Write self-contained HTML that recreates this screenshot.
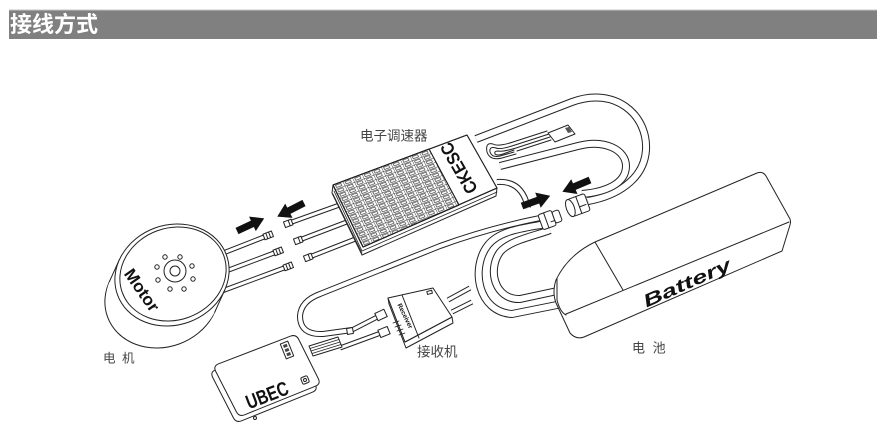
<!DOCTYPE html>
<html><head><meta charset="utf-8">
<style>
html,body{margin:0;padding:0;background:#fff;}
body{width:882px;height:434px;overflow:hidden;position:relative;}
svg{position:absolute;left:0;top:0;}
.cb{fill:none;stroke:#222;stroke-width:8;stroke-linecap:butt;}
.cw{fill:none;stroke:#fff;stroke-width:6;stroke-linecap:butt;}
.tb{fill:none;stroke:#222;stroke-width:6;stroke-linecap:butt;}
.tw{fill:none;stroke:#fff;stroke-width:4;stroke-linecap:butt;}
.sb{fill:none;stroke:#222;stroke-width:5;stroke-linecap:butt;}
.sw{fill:none;stroke:#fff;stroke-width:3;stroke-linecap:butt;}
.lbl{font-family:"Liberation Sans","Noto Sans CJK SC",sans-serif;fill:#444;stroke:none;}
</style></head><body>
<svg width="882" height="434" viewBox="0 0 882 434" xmlns="http://www.w3.org/2000/svg">
<defs>
<pattern id="fin" patternUnits="userSpaceOnUse" width="9.6" height="4.4" patternTransform="matrix(1,-0.375,0.484,1,333,185)">
<rect x="0" y="0" width="9.6" height="4.4" fill="#fff"/>
<line x1="0" y1="0" x2="9.6" y2="0" stroke="#222" stroke-width="0.8"/>
<line x1="0" y1="0" x2="0" y2="4.4" stroke="#222" stroke-width="0.8"/>
<rect x="2" y="1.1" width="5.2" height="2.2" fill="none" stroke="#333" stroke-width="0.6"/>
</pattern>
</defs>
<rect x="9" y="10" width="868" height="29" fill="#808080"/>
<line x1="9" y1="10" x2="877" y2="10" stroke="#c4c4c4"/>
<text x="10" y="32" font-family="'Liberation Sans','Noto Sans CJK SC',sans-serif" font-weight="bold" font-size="22" fill="#fff">接线方式</text>

<g fill="none" stroke="#222" stroke-width="1" stroke-linejoin="round" stroke-linecap="round">

<!-- big loop cables -->
<path class="cb" d="M476,139 L572,102 C615,86 648,115 646,150 C644,180 616,196 588,201"/>
<path class="cw" d="M476,139 L572,102 C615,86 648,115 646,150 C644,180 616,196 588,201"/>
<path class="cb" d="M500,166 L578,146 C605,139 626,150 626,166 C626,184 605,192 582,194"/>
<path class="cw" d="M500,166 L578,146 C605,139 626,150 626,166 C626,184 605,192 582,194"/>

<!-- long thin cable to receiver -->
<path class="tb" d="M352,330 L323,334 Q300,335 300,316 Q301,301 320,294 L440,246 Q490,228 540,218"/>
<path class="tw" d="M352,330 L323,334 Q300,335 300,316 Q301,301 320,294 L440,246 Q490,228 540,218"/>

<!-- S battery cables -->
<path class="cb" d="M546,224 C525,228 500,230 488,245 C470,268 478,312 512,314 L562,304"/>
<path class="cw" d="M546,224 C525,228 500,230 488,245 C470,268 478,312 512,314 L562,304"/>
<path class="cb" d="M550,230 C535,236 510,240 500,252 C487,270 495,300 520,299 L562,290"/>
<path class="cw" d="M550,230 C535,236 510,240 500,252 C487,270 495,300 520,299 L562,290"/>

<!-- battery -->
<path fill="#fff" d="M595,242 L757,173 Q763,171 766,176 L790,219 Q791,222 790,225 L782,251 L584,337 Q576,340 570,333 L556,303 Q552,292 556,280 Q568,255 595,242 Z"/>
<path d="M789,222 L566,314"/>
<path d="M557,279 L557,300 Q560,312 566,315"/>
<path d="M595,242 L623,290"/>
<text transform="translate(687,283) rotate(-24)" x="0" y="6" text-anchor="middle" font-family="'Liberation Sans',sans-serif" font-weight="bold" font-style="italic" font-size="18" textLength="94" lengthAdjust="spacingAndGlyphs" fill="#111" stroke="none">Battery</text>

<!-- ESC short cable to connector -->
<path class="tb" d="M497,182 Q522,180 528,208"/>
<path class="tw" d="M497,182 Q522,180 528,208"/>

<!-- connectors -->
<g transform="translate(550,219) rotate(-20)" fill="#fff">
<rect x="-10" y="-8" width="14" height="16" rx="2"/>
<rect x="4" y="-6" width="7" height="12" rx="2"/>
<line x1="-4" y1="-8" x2="-4" y2="8"/>
<line x1="0" y1="3" x2="4" y2="3"/>
</g>
<g transform="translate(576,206) rotate(-20)" fill="#fff">
<rect x="-6" y="-9" width="18" height="18" rx="2"/>
<ellipse cx="-6" cy="0" rx="4" ry="9"/>
<line x1="3" y1="-9" x2="3" y2="9"/>
<line x1="3" y1="2" x2="10" y2="2"/>
</g>

<!-- arrows -->
<g fill="#111" stroke="none">
<polygon transform="translate(237,231) rotate(-25)" points="0,-3.5 17,-3.5 17,-8 30,0 17,8 17,3.5 0,3.5"/>
<polygon transform="translate(304,203) rotate(153)" points="0,-3.5 17,-3.5 17,-8 30,0 17,8 17,3.5 0,3.5"/>
<polygon transform="translate(522,206) rotate(-20)" points="0,-3.5 17,-3.5 17,-8 30,0 17,8 17,3.5 0,3.5"/>
<polygon transform="translate(590,180) rotate(157)" points="0,-3.5 17,-3.5 17,-8 30,0 17,8 17,3.5 0,3.5"/>
</g>

<!-- servo lead fold + plug -->
<path d="M549,134 L515,145 Q500,150 496,148 Q489,146 490,152 Q492,158 500,156 L514,152"/>
<path d="M550,137 L516,148 Q503,152 498,151 Q494,151 495,154 Q497,156 503,154 L514,150"/>
<path d="M551,140 L517,151"/>
<path d="M547,131 L513,142 Q498,147 493,144 Q485,142 487,152 Q490,161 502,158 L516,154"/>
<polygon fill="#fff" points="548,133 568,125 575,134 555,142"/>
<polygon fill="#555" stroke="none" points="565,128 569,127 572,132 568,133"/>

<!-- ESC wires -->
<path class="sb" d="M345,203 L292,222"/><path class="sw" d="M345,203 L292,222"/>
<path class="sb" d="M352,220 L302,239"/><path class="sw" d="M352,220 L302,239"/>
<path class="sb" d="M358,238 L312,256"/><path class="sw" d="M358,238 L312,256"/>
<g fill="#fff">
<g transform="translate(292,222) rotate(160)"><rect x="0" y="-3" width="8" height="6"/><line x1="3" y1="-3" x2="3" y2="3"/></g>
<g transform="translate(302,239) rotate(159)"><rect x="0" y="-3" width="8" height="6"/><line x1="3" y1="-3" x2="3" y2="3"/></g>
<g transform="translate(312,256) rotate(159)"><rect x="0" y="-3" width="8" height="6"/><line x1="3" y1="-3" x2="3" y2="3"/></g>
</g>

<!-- ESC body -->
<polygon fill="#fff" points="333,185 332,193 362,255 496,196 497,188 363,247"/>
<path d="M334,191 L362,251 L497,192" stroke-width="0.8"/>
<path d="M333,194 L362,253" stroke-width="0.7"/>
<polygon fill="#fff" points="333,185 467,135 497,188 363,247"/>
<polygon fill="url(#fin)" points="333,185 429,149 459,205 363,247"/>
<polygon points="333,185 429,149 459,205 363,247"/>
<polygon points="333,185 467,135 497,188 363,247"/>
<text transform="translate(459,168) rotate(-120)" x="0" y="6" text-anchor="middle" font-family="'Liberation Sans',sans-serif" font-weight="bold" font-size="18" textLength="56" lengthAdjust="spacingAndGlyphs" fill="#111" stroke="none">CKESC</text>

<!-- motor wires -->
<path class="sb" d="M213,257 L264,237"/><path class="sw" d="M213,257 L264,237"/>
<path class="sb" d="M218,274 L274,253"/><path class="sw" d="M218,274 L274,253"/>
<path class="sb" d="M222,291 L284,268"/><path class="sw" d="M222,291 L284,268"/>
<g fill="#fff">
<g transform="translate(264,237) rotate(-21)"><rect x="0" y="-3" width="9" height="6"/><line x1="3" y1="-3" x2="3" y2="3"/><line x1="6" y1="-3" x2="6" y2="3"/></g>
<g transform="translate(274,253) rotate(-21)"><rect x="0" y="-3" width="9" height="6"/><line x1="3" y1="-3" x2="3" y2="3"/><line x1="6" y1="-3" x2="6" y2="3"/></g>
<g transform="translate(284,268) rotate(-21)"><rect x="0" y="-3" width="9" height="6"/><line x1="3" y1="-3" x2="3" y2="3"/><line x1="6" y1="-3" x2="6" y2="3"/></g>
</g>

<!-- motor -->
<ellipse cx="162" cy="297" rx="58" ry="50" transform="rotate(-20 162 297)" fill="#fff"/>
<g fill="#fff" stroke="none">
<ellipse cx="170.5" cy="278.3" rx="58" ry="50" transform="rotate(-20 170.5 278.3)"/>
<ellipse cx="169" cy="281.6" rx="58" ry="50" transform="rotate(-20 169 281.6)"/>
<ellipse cx="167.5" cy="284.9" rx="58" ry="50" transform="rotate(-20 167.5 284.9)"/>
<ellipse cx="166" cy="288.2" rx="58" ry="50" transform="rotate(-20 166 288.2)"/>
<ellipse cx="164.5" cy="291.5" rx="58" ry="50" transform="rotate(-20 164.5 291.5)"/>
<ellipse cx="163" cy="294.8" rx="58" ry="50" transform="rotate(-20 163 294.8)"/>
</g>
<line x1="119.3" y1="259.8" x2="109.3" y2="281.8"/>
<line x1="224.7" y1="290.2" x2="214.7" y2="312.2"/>
<ellipse cx="172" cy="275" rx="58" ry="50" transform="rotate(-20 172 275)" fill="#fff"/>
<ellipse cx="173" cy="274" rx="54" ry="46" transform="rotate(-20 173 274)"/>
<circle cx="175" cy="271" r="11" fill="#fff"/>
<circle cx="175" cy="271" r="5"/>
<g fill="#fff">
<circle cx="165" cy="257" r="2.2"/><circle cx="180" cy="257" r="2.2"/>
<circle cx="157" cy="267" r="2.2"/><circle cx="192" cy="266" r="2.2"/>
<circle cx="158" cy="280" r="2.2"/><circle cx="193" cy="279" r="2.2"/>
<circle cx="170" cy="289" r="2.2"/><circle cx="184" cy="289" r="2.2"/>
</g>
<text transform="translate(142,290) rotate(55)" x="0" y="6" text-anchor="middle" font-family="'Liberation Sans',sans-serif" font-weight="bold" font-size="17" textLength="48" lengthAdjust="spacingAndGlyphs" fill="#111" stroke="none">Motor</text>

<!-- receiver antennas & leads -->
<path class="sb" d="M448,300 L470,288"/><path class="sw" d="M448,300 L470,288"/>
<path class="sb" d="M452,312 L472,302"/><path class="sw" d="M452,312 L472,302"/>
<path class="sb" d="M385,313 L352,330"/><path class="sw" d="M385,313 L352,330"/>
<path class="sb" d="M389,330 L340,348"/><path class="sw" d="M389,330 L340,348"/>
<g fill="#fff">
<rect x="-5" y="-4" width="10" height="8" transform="translate(381,315) rotate(-25)"/>
<rect x="-5" y="-4" width="10" height="8" transform="translate(384,332) rotate(-22)"/>
<rect x="-3" y="-3" width="6" height="6" transform="translate(350,331) rotate(-10)"/>
</g>

<!-- receiver body -->
<polygon fill="#fff" points="388,298 405,342 452,317 453,323 406,348 389,304"/>
<polygon fill="#fff" points="388,298 433,288 452,317 405,342"/>
<line x1="402" y1="295" x2="419" y2="338"/>
<g stroke-width="0.7">
<line x1="393" y1="323" x2="399" y2="321"/><line x1="395" y1="327" x2="401" y2="325"/>
<line x1="397" y1="331" x2="403" y2="329"/><line x1="399" y1="335" x2="405" y2="333"/>
</g>
<rect x="427" y="291" width="5" height="3" transform="rotate(-15 429 292)"/>
<text transform="translate(405,316) rotate(64)" x="0" y="2" text-anchor="middle" font-family="'Liberation Sans',sans-serif" font-weight="bold" font-size="6.5" fill="#111" stroke="none">Receiver</text>

<!-- ribbon -->
<polygon fill="#fff" points="309,346 338,337 342,347 313,356"/>
<g stroke-width="0.7">
<line x1="310" y1="348.5" x2="339" y2="339.5"/>
<line x1="311" y1="351" x2="340" y2="342"/>
<line x1="312" y1="353.5" x2="341" y2="344.5"/>
</g>

<!-- UBEC -->
<path fill="#fff" transform="translate(-3,6)" d="M218.6,363.8 L290.4,336.2 Q296,334 298.7,339.4 L318.3,378.6 Q321,384 315.4,386.2 L244.6,414.8 Q239,417 236.3,411.6 L215.7,371.4 Q213,366 218.6,363.8 Z"/>
<path fill="#fff" d="M218.6,363.8 L290.4,336.2 Q296,334 298.7,339.4 L318.3,378.6 Q321,384 315.4,386.2 L244.6,414.8 Q239,417 236.3,411.6 L215.7,371.4 Q213,366 218.6,363.8 Z"/>
<g transform="translate(287,350) rotate(-22)">
<rect x="-4" y="-8" width="8" height="16" fill="#fff"/>
<rect x="-2" y="-6" width="4" height="3" fill="#444" stroke="none"/>
<rect x="-2" y="-1.5" width="4" height="3" fill="#444" stroke="none"/>
<rect x="-2" y="3" width="4" height="3" fill="#444" stroke="none"/>
</g>
<g transform="translate(305,380) rotate(-22)">
<rect x="-3.5" y="-3.5" width="7" height="7" rx="1.5" fill="#fff"/>
<circle cx="0" cy="0" r="1.5"/>
</g>
<circle cx="255" cy="418" r="1.5"/>
<text transform="translate(267,395) rotate(-21)" x="0" y="7" text-anchor="middle" font-family="'Liberation Sans',sans-serif" font-weight="bold" font-size="20" textLength="44" lengthAdjust="spacingAndGlyphs" fill="#111" stroke="none">UBEC</text>
</g>

<!-- labels -->
<text class="lbl" x="360" y="140.5" font-size="13.5">电子调速器</text>
<text class="lbl" x="103" y="362.5" font-size="12.5" letter-spacing="1.5">电 机</text>
<text class="lbl" x="417" y="356.5" font-size="13.5">接收机</text>
<text class="lbl" x="632" y="352.5" font-size="13" letter-spacing="2">电 池</text>
</svg>
</body></html>
